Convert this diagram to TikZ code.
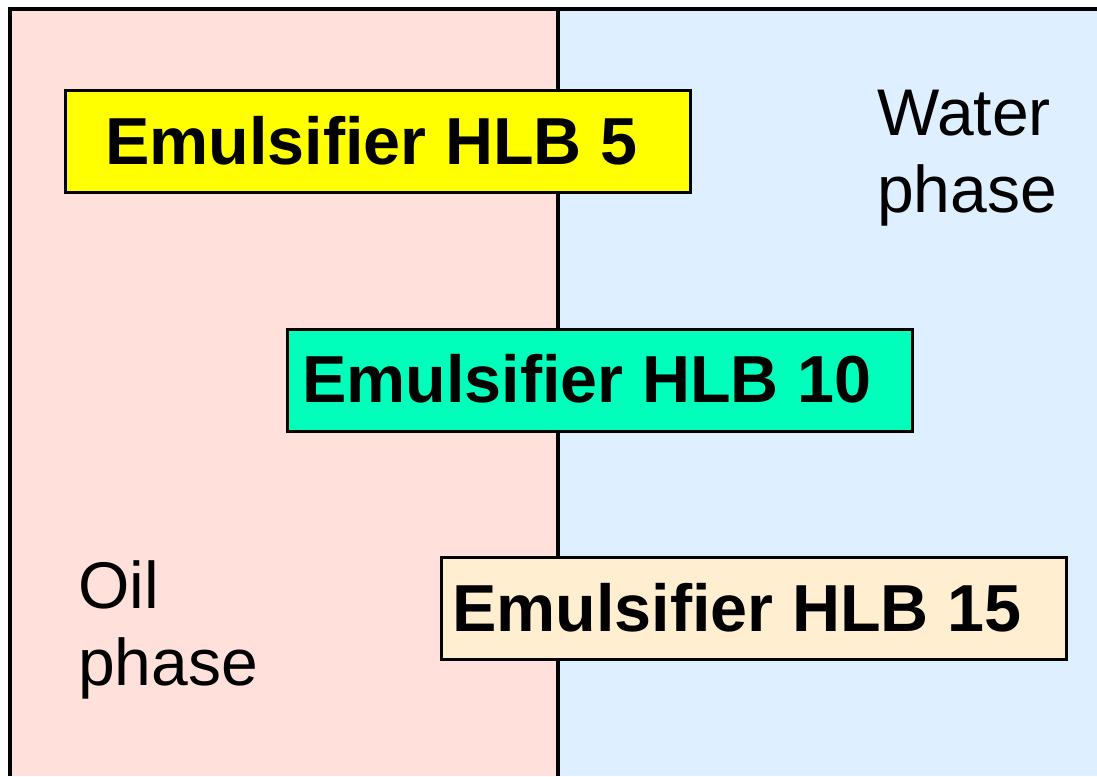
\documentclass[tikz,border=0pt]{standalone}
\usepackage{fontspec}
\setmainfont{Liberation Sans}
\definecolor{oilbg}{RGB}{255,224,218}
\definecolor{waterbg}{RGB}{222,240,255}
\definecolor{hlbfive}{RGB}{255,255,0}
\definecolor{hlbten}{RGB}{0,255,187}
\definecolor{hlbfifteen}{RGB}{255,238,208}
\begin{document}
\begin{tikzpicture}[x=1pt,y=-1pt,
  border/.style={line width=3.6pt},
  hlbbox/.style={draw=black, line width=3pt, minimum width=625pt, minimum height=102pt, inner sep=0pt},
  hlblabel/.style={font=\fontsize{66.5}{77}\selectfont\bfseries, inner sep=0pt, anchor=base west},
  phaselabel/.style={font=\fontsize{66}{77}\selectfont, inner sep=0pt, anchor=base west, align=left}
  ]
  \useasboundingbox (0,0) rectangle (1097,776);
  % backgrounds
  \fill[oilbg] (10,9) rectangle (558,776);
  \fill[waterbg] (558,9) rectangle (1097,776);
  % borders
  \coordinate (tl) at (10,9);
  \coordinate (tr) at (1097,9);
  \coordinate (bl) at (10,776);
  \coordinate (tm) at (558,9);
  \coordinate (bm) at (558,776);
  \draw[border] (bl) -- (tl) -- (tr);
  \draw[border] (tm) -- (bm);
  % phase labels
  \node[phaselabel] (water) at (877,212) {Water\\phase};
  \node[phaselabel] (oil) at (78,685) {Oil\\phase};
  % emulsifier boxes
  \node[hlbbox, fill=hlbfive] (b5) at (377.5,141) {};
  \node[hlblabel] (t5) at (105,164.5) {Emulsifier HLB 5};
  \node[hlbbox, fill=hlbten] (b10) at (599.5,380.5) {};
  \node[hlblabel] (t10) at (302,402) {Emulsifier HLB 10};
  \node[hlbbox, fill=hlbfifteen] (b15) at (753.5,608.5) {};
  \node[hlblabel] (t15) at (452,631) {Emulsifier HLB 15};
\end{tikzpicture}
\end{document}
